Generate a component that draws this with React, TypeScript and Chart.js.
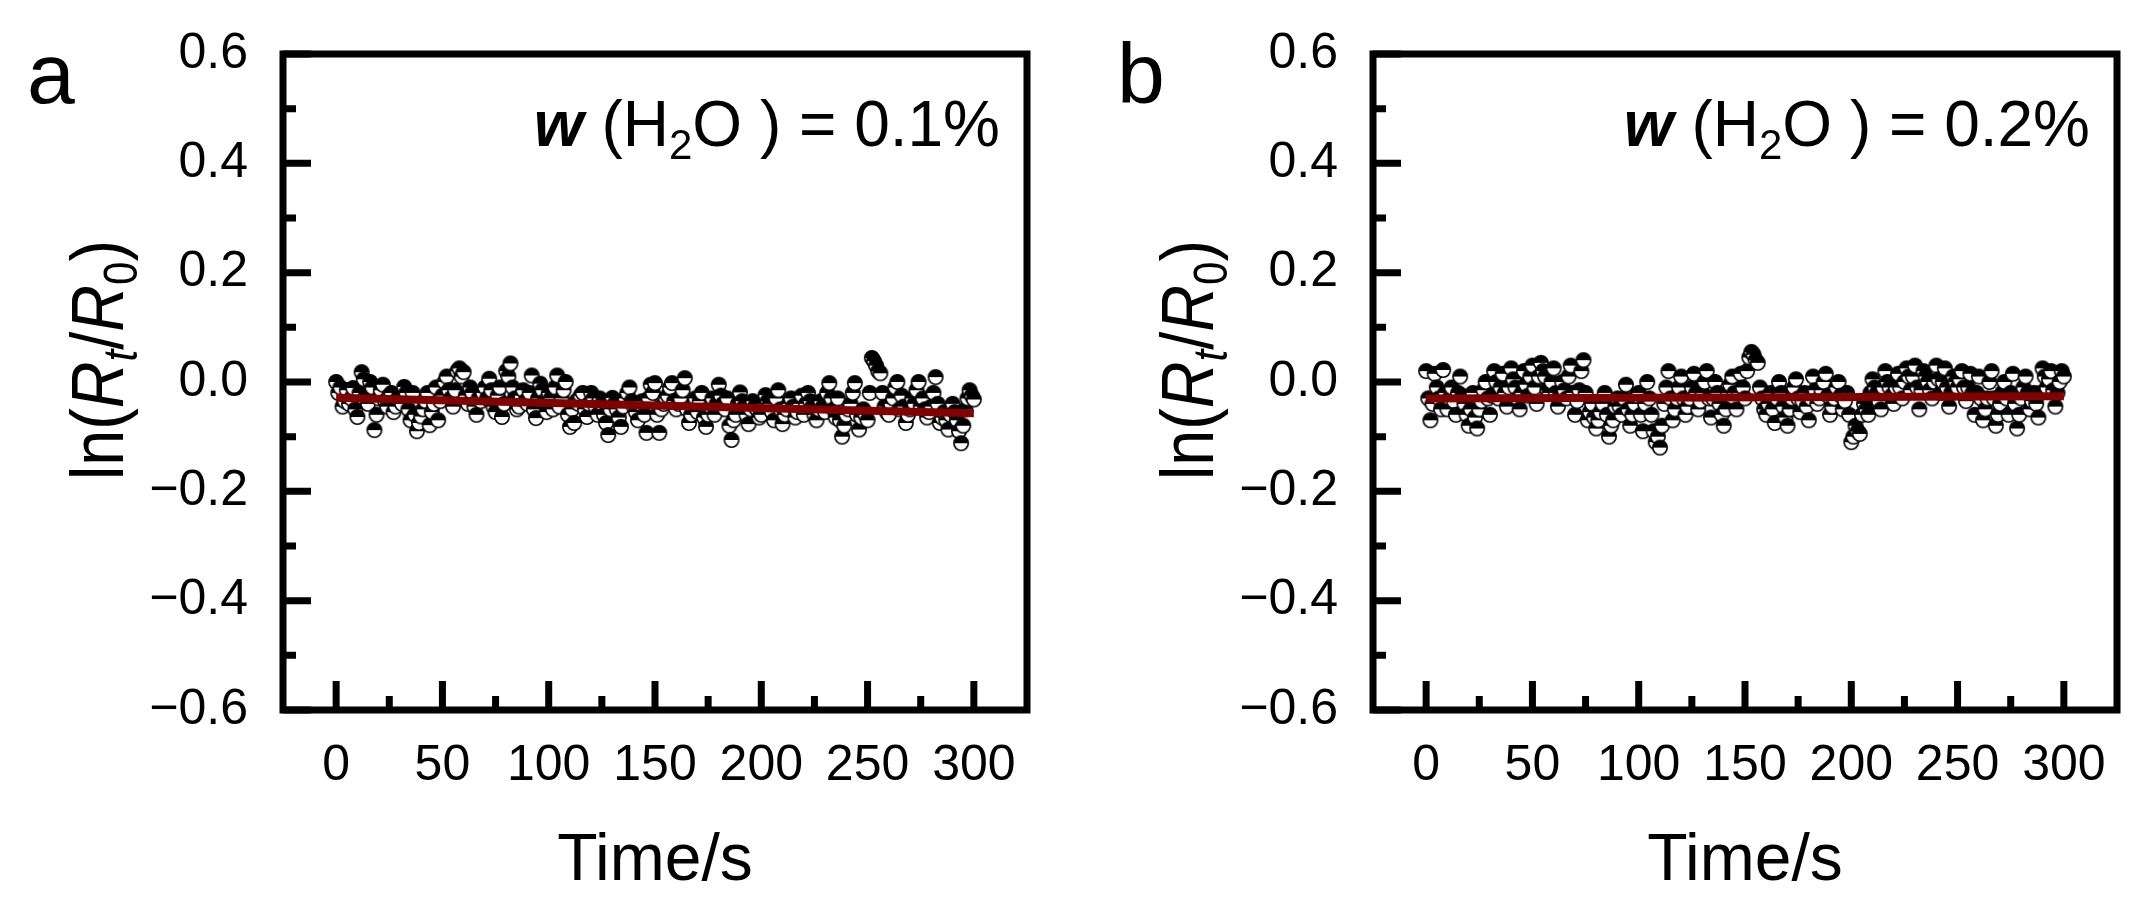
import React, { useEffect, useRef } from 'react'
import { Chart, registerables } from 'chart.js'

Chart.register(...registerables)

// time base, s (one reading per second)
const TIME = [
  0, 1, 2, 3, 4, 5, 6, 7, 8, 9, 10, 11, 12, 13, 14, 15, 16, 17, 18, 19,
  20, 21, 22, 23, 24, 25, 26, 27, 28, 29, 30, 31, 32, 33, 34, 35, 36, 37, 38, 39,
  40, 41, 42, 43, 44, 45, 46, 47, 48, 49, 50, 51, 52, 53, 54, 55, 56, 57, 58, 59,
  60, 61, 62, 63, 64, 65, 66, 67, 68, 69, 70, 71, 72, 73, 74, 75, 76, 77, 78, 79,
  80, 81, 82, 83, 84, 85, 86, 87, 88, 89, 90, 91, 92, 93, 94, 95, 96, 97, 98, 99,
  100, 101, 102, 103, 104, 105, 106, 107, 108, 109, 110, 111, 112, 113, 114, 115, 116, 117, 118, 119,
  120, 121, 122, 123, 124, 125, 126, 127, 128, 129, 130, 131, 132, 133, 134, 135, 136, 137, 138, 139,
  140, 141, 142, 143, 144, 145, 146, 147, 148, 149, 150, 151, 152, 153, 154, 155, 156, 157, 158, 159,
  160, 161, 162, 163, 164, 165, 166, 167, 168, 169, 170, 171, 172, 173, 174, 175, 176, 177, 178, 179,
  180, 181, 182, 183, 184, 185, 186, 187, 188, 189, 190, 191, 192, 193, 194, 195, 196, 197, 198, 199,
  200, 201, 202, 203, 204, 205, 206, 207, 208, 209, 210, 211, 212, 213, 214, 215, 216, 217, 218, 219,
  220, 221, 222, 223, 224, 225, 226, 227, 228, 229, 230, 231, 232, 233, 234, 235, 236, 237, 238, 239,
  240, 241, 242, 243, 244, 245, 246, 247, 248, 249, 250, 251, 252, 253, 254, 255, 256, 257, 258, 259,
  260, 261, 262, 263, 264, 265, 266, 267, 268, 269, 270, 271, 272, 273, 274, 275, 276, 277, 278, 279,
  280, 281, 282, 283, 284, 285, 286, 287, 288, 289, 290, 291, 292, 293, 294, 295, 296, 297, 298, 299,
  300,
]

// ln(Rt/R0), w(H2O) = 0.1%  (10 readings per row)
const LN_RATIO_A = [
  0.0, -0.02, -0.01, -0.045, -0.035, -0.015, -0.04, -0.03, -0.011, -0.05,
  -0.064, -0.02, 0.018, 0.005, -0.025, -0.04, 0.0, -0.01, -0.088, -0.06,
  -0.03, -0.015, -0.005, -0.035, -0.045, -0.025, -0.02, -0.055, -0.045, -0.03,
  -0.03, -0.04, -0.009, -0.02, -0.05, -0.07, -0.02, -0.06, -0.09, -0.075,
  -0.063, -0.05, -0.035, -0.02, -0.079, -0.055, -0.04, -0.01, -0.07, -0.035,
  -0.025, 0.0, 0.01, -0.015, -0.03, -0.045, -0.015, 0.02, 0.025, 0.01,
  0.018, -0.025, -0.04, -0.01, -0.02, -0.045, -0.06, -0.03, -0.035, -0.02,
  -0.01, -0.03, 0.006, -0.015, -0.045, -0.055, -0.025, -0.01, -0.064, -0.04,
  0.02, 0.01, 0.034, -0.01, -0.03, -0.05, -0.045, -0.025, -0.015, -0.035,
  -0.04, -0.02, 0.012, -0.05, -0.066, -0.03, -0.003, -0.015, -0.035, -0.055,
  -0.02, -0.03, -0.05, -0.01, 0.012, -0.045, -0.03, -0.015, 0.0, -0.06,
  -0.082, -0.05, -0.075, -0.035, -0.04, -0.025, -0.02, -0.05, -0.064, -0.04,
  -0.02, -0.03, -0.045, -0.06, -0.03, -0.04, -0.06, -0.075, -0.097, -0.05,
  -0.029, -0.04, -0.05, -0.065, -0.082, -0.045, -0.03, -0.02, -0.01, -0.035,
  -0.045, -0.055, -0.07, -0.04, -0.035, -0.06, -0.093, -0.03, -0.005, -0.02,
  -0.002, -0.06, -0.093, -0.05, -0.04, -0.03, -0.025, -0.01, -0.002, -0.035,
  -0.05, -0.04, -0.03, -0.015, 0.007, -0.05, -0.075, -0.06, -0.04, -0.03,
  -0.055, -0.035, -0.02, -0.065, -0.082, -0.06, -0.045, -0.03, -0.06, -0.04,
  -0.005, -0.025, -0.04, -0.05, -0.03, -0.08, -0.106, -0.07, -0.06, -0.04,
  -0.019, -0.035, -0.045, -0.06, -0.077, -0.05, -0.035, -0.045, -0.05, -0.065,
  -0.06, -0.04, -0.024, -0.035, -0.04, -0.055, -0.07, -0.03, -0.015, -0.05,
  -0.077, -0.06, -0.05, -0.04, -0.03, -0.045, -0.065, -0.055, -0.04, -0.025,
  -0.06, -0.04, -0.02, -0.035, -0.045, -0.06, -0.07, -0.05, -0.035, -0.045,
  -0.055, -0.02, -0.002, -0.03, -0.05, -0.065, -0.03, -0.07, -0.1, -0.08,
  -0.06, -0.05, -0.04, -0.02, -0.002, -0.06, -0.087, -0.065, -0.05, -0.06,
  -0.07, -0.02, 0.044, 0.038, 0.03, 0.02, 0.016, -0.02, -0.045, -0.055,
  -0.06, -0.04, -0.03, -0.01, 0.0, -0.05, -0.025, -0.045, -0.075, -0.06,
  -0.05, -0.03, -0.04, -0.015, 0.0, -0.045, -0.03, -0.05, -0.065, -0.055,
  -0.045, -0.02, 0.009, -0.04, -0.075, -0.065, -0.055, -0.07, -0.087, -0.06,
  -0.04, -0.055, -0.07, -0.09, -0.112, -0.08, -0.05, -0.03, -0.015, -0.025,
  -0.032,
]

// ln(Rt/R0), w(H2O) = 0.2%  (10 readings per row)
const LN_RATIO_B = [
  0.02, -0.03, -0.07, -0.04, 0.015, -0.01, -0.03, -0.05, 0.022, -0.02,
  -0.05, -0.03, -0.01, -0.035, -0.06, -0.02, 0.01, -0.025, -0.04, -0.06,
  -0.08, -0.05, -0.02, -0.065, -0.085, -0.05, -0.035, -0.015, 0.0, -0.03,
  -0.06, -0.025, 0.02, 0.0, -0.03, -0.01, 0.015, -0.02, -0.045, -0.01,
  0.025, 0.005, -0.01, -0.03, -0.05, -0.02, 0.02, -0.005, -0.025, 0.01,
  0.03, -0.01, -0.04, 0.01, 0.035, 0.02, 0.01, -0.015, -0.02, 0.0,
  0.025, -0.02, -0.045, -0.025, 0.0, -0.015, -0.03, 0.01, 0.03, -0.02,
  -0.06, -0.035, -0.015, 0.02, 0.04, -0.02, -0.07, -0.055, -0.04, -0.065,
  -0.085, -0.07, -0.055, -0.04, -0.02, -0.06, -0.1, -0.08, -0.07, -0.045,
  -0.03, -0.045, -0.06, -0.03, -0.005, -0.05, -0.08, -0.06, -0.04, -0.025,
  -0.02, -0.06, -0.09, -0.04, 0.0, -0.03, -0.06, -0.09, -0.11, -0.1,
  -0.12, -0.08, -0.04, -0.01, 0.02, -0.03, -0.07, -0.05, -0.03, -0.01,
  0.01, -0.03, -0.06, -0.045, -0.03, -0.01, 0.015, -0.02, -0.05, -0.035,
  -0.02, 0.0, 0.02, -0.03, -0.065, -0.03, 0.0, -0.02, -0.04, -0.06,
  -0.08, -0.05, -0.02, -0.005, 0.01, -0.02, -0.05, -0.02, 0.015, -0.01,
  -0.03, 0.02, 0.045, 0.055, 0.05, 0.04, 0.035, -0.01, -0.03, -0.05,
  -0.06, -0.04, -0.02, -0.05, -0.075, -0.03, 0.0, -0.02, -0.045, -0.065,
  -0.08, -0.05, -0.03, -0.01, 0.005, -0.03, -0.055, -0.035, -0.02, -0.045,
  -0.07, -0.03, 0.01, -0.015, -0.04, -0.03, -0.015, 0.0, 0.015, -0.025,
  -0.06, -0.045, -0.03, -0.01, 0.0, -0.025, -0.05, -0.035, -0.02, -0.06,
  -0.11, -0.1, -0.08, -0.09, -0.095, -0.06, -0.04, -0.05, -0.06, -0.02,
  0.005, -0.01, -0.02, -0.035, -0.05, -0.01, 0.02, 0.0, -0.01, -0.025,
  -0.04, -0.01, 0.015, -0.01, -0.03, 0.0, 0.025, 0.01, -0.015, 0.01,
  0.03, -0.01, -0.05, -0.015, 0.02, 0.01, 0.0, -0.015, -0.03, 0.0,
  0.03, 0.005, -0.02, 0.0, 0.025, -0.01, -0.045, -0.02, 0.01, 0.0,
  -0.01, 0.005, 0.02, -0.01, -0.035, -0.01, 0.015, -0.02, -0.06, -0.02,
  0.01, -0.03, -0.07, -0.05, -0.03, 0.0, 0.02, -0.03, -0.08, -0.06,
  -0.04, -0.02, 0.0, -0.03, -0.06, -0.02, 0.015, -0.04, -0.085, -0.06,
  -0.03, -0.01, 0.01, -0.02, -0.05, -0.035, -0.02, -0.04, -0.065, -0.02,
  0.025, 0.01, -0.01, 0.005, 0.02, -0.015, -0.045, -0.02, 0.0, 0.02,
  0.01,
]

// linear fits
const FIT_TIME = [0, 300]
const FIT_A = [-0.029, -0.057]
const FIT_B = [-0.03, -0.026]

const X_MAJOR = [0, 50, 100, 150, 200, 250, 300]
const X_MINOR = [25, 75, 125, 175, 225, 275]
const Y_MAJOR = [-0.6, -0.4, -0.2, 0, 0.2, 0.4, 0.6]
const Y_MINOR = [-0.5, -0.3, -0.1, 0.1, 0.3, 0.5]

const FONT = 'Arial, "Liberation Sans", sans-serif'
const W = 1054
const H = 904

type Run = { text: string; font: string; dy?: number }

function runsWidth(ctx: CanvasRenderingContext2D, runs: Run[]) {
  let total = 0
  for (const r of runs) {
    ctx.font = r.font
    total += ctx.measureText(r.text).width
  }
  return total
}

// draw a row of text pieces (italic, subscripts)
function drawRuns(ctx: CanvasRenderingContext2D, runs: Run[], x: number, y: number, align: 'left' | 'center' | 'right') {
  const total = runsWidth(ctx, runs)
  let cx = align === 'left' ? x : align === 'center' ? x - total / 2 : x - total
  ctx.textAlign = 'left'
  ctx.textBaseline = 'alphabetic'
  for (const r of runs) {
    ctx.font = r.font
    ctx.fillText(r.text, cx, y + (r.dy || 0))
    cx += ctx.measureText(r.text).width
  }
}

function halfDot() {
  const c = document.createElement('canvas')
  c.width = 18
  c.height = 18
  const g = c.getContext('2d')!
  g.beginPath()
  g.arc(9, 9, 7.2, 0, Math.PI * 2)
  g.fillStyle = '#fff'
  g.fill()
  g.beginPath()
  g.arc(9, 9, 7.2, Math.PI, 0)
  g.closePath()
  g.fillStyle = '#000'
  g.fill()
  g.beginPath()
  g.arc(9, 9, 7.2, 0, Math.PI * 2)
  g.lineWidth = 1.6
  g.strokeStyle = '#000'
  g.stroke()
  return c
}

const framePlugin = {
  id: 'frame',
  afterDatasetsDraw(chart: any) {
    const { ctx, chartArea: a, scales } = chart
    const x = scales.x
    const y = scales.y
    ctx.save()
    ctx.strokeStyle = '#000'
    ctx.lineWidth = 7
    ctx.lineJoin = 'miter'
    ctx.strokeRect(a.left, a.top, a.right - a.left, a.bottom - a.top)
    ctx.beginPath()
    for (const v of X_MAJOR) {
      const px = x.getPixelForValue(v)
      ctx.moveTo(px, a.bottom)
      ctx.lineTo(px, a.bottom - 29)
    }
    for (const v of X_MINOR) {
      const px = x.getPixelForValue(v)
      ctx.moveTo(px, a.bottom)
      ctx.lineTo(px, a.bottom - 14)
    }
    for (const v of Y_MAJOR) {
      const py = y.getPixelForValue(v)
      ctx.moveTo(a.left, py)
      ctx.lineTo(a.left + 28, py)
    }
    for (const v of Y_MINOR) {
      const py = y.getPixelForValue(v)
      ctx.moveTo(a.left, py)
      ctx.lineTo(a.left + 13, py)
    }
    ctx.stroke()
    ctx.restore()
  },
}

const Y_TITLE: Run[] = [
  { text: 'ln(', font: `75px ${FONT}` },
  { text: 'R', font: `italic 75px ${FONT}` },
  { text: 't', font: `italic 49px ${FONT}`, dy: 14 },
  { text: '/', font: `75px ${FONT}` },
  { text: 'R', font: `italic 75px ${FONT}` },
  { text: '0', font: `49px ${FONT}`, dy: 14 },
  { text: ')', font: `75px ${FONT}` },
]

const textPlugin = {
  id: 'texts',
  afterDraw(chart: any) {
    const { ctx } = chart
    const opts = chart.options.plugins.texts
    ctx.save()
    ctx.fillStyle = '#000'

    ctx.font = `86px ${FONT}`
    ctx.textAlign = 'left'
    ctx.textBaseline = 'alphabetic'
    ctx.fillText(opts.letter, 27, 103)

    // y title: tall glyphs squeezed to a 240px run, as in the original
    ctx.save()
    ctx.translate(123, 360)
    ctx.rotate(-Math.PI / 2)
    ctx.scale(240 / runsWidth(ctx, Y_TITLE), 1)
    drawRuns(ctx, Y_TITLE, 0, 0, 'center')
    ctx.restore()

    drawRuns(ctx, [{ text: 'Time/s', font: `66px ${FONT}` }], 655, 880, 'center')

    drawRuns(ctx, [
      { text: 'w', font: `italic bold 64px ${FONT}` },
      { text: ' (H', font: `64px ${FONT}` },
      { text: '2', font: `42px ${FONT}`, dy: 13 },
      { text: 'O ) = ' + opts.water, font: `64px ${FONT}` },
    ], 1000, 146, 'right')
    ctx.restore()
  },
}

type PanelProps = { left: number; letter: string; water: string; values: number[]; fit: number[] }

function Panel({ left, letter, water, values, fit }: PanelProps) {
  const ref = useRef<HTMLCanvasElement>(null)

  useEffect(() => {
    const dot = halfDot()
    const chart = new Chart(ref.current!, {
      type: 'scatter',
      data: {
        datasets: [
          {
            type: 'line',
            data: FIT_TIME.map((t, i) => ({ x: t, y: fit[i] })),
            borderColor: '#820000',
            borderWidth: 8,
            pointRadius: 0,
            order: 1,
          },
          {
            type: 'scatter',
            data: TIME.map((t, i) => ({ x: t, y: values[i] })),
            pointStyle: dot,
            pointRadius: 9,
            order: 2,
          },
        ],
      } as any,
      options: {
        animation: false,
        responsive: false,
        devicePixelRatio: 1,
        layout: { autoPadding: false, padding: { top: 54, right: W - 1027, bottom: 0, left: 0 } },
        scales: {
          x: {
            type: 'linear',
            min: -25,
            max: 325,
            grid: { display: false, drawTicks: false },
            border: { display: false },
            afterBuildTicks: (s: any) => {
              s.ticks = X_MAJOR.map((v) => ({ value: v }))
            },
            afterFit: (s: any) => {
              s.height = H - 54 - 656
              s.paddingLeft = 0
              s.paddingRight = 0
            },
            ticks: {
              autoSkip: false,
              maxRotation: 0,
              padding: 26,
              color: '#000',
              font: { family: FONT, size: 50 },
            },
          },
          y: {
            type: 'linear',
            min: -0.6,
            max: 0.6,
            grid: { display: false, drawTicks: false },
            border: { display: false },
            afterBuildTicks: (s: any) => {
              s.ticks = Y_MAJOR.map((v) => ({ value: v }))
            },
            afterFit: (s: any) => {
              s.width = 283
              s.paddingTop = 0
              s.paddingBottom = 0
            },
            ticks: {
              padding: 35,
              color: '#000',
              font: { family: FONT, size: 50 },
              callback: (v: any) => {
                const n = Number(v)
                const s = Math.abs(n).toFixed(1)
                return n < -1e-9 ? '\u2212' + s : s
              },
            },
          },
        },
        plugins: {
          legend: { display: false },
          tooltip: { enabled: false },
          texts: { letter, water },
        } as any,
      },
      plugins: [framePlugin, textPlugin],
    })

    return () => {
      chart.destroy()
    }
  }, [])

  return <canvas ref={ref} width={W} height={H} style={{ position: 'absolute', left, top: 0 }} />
}

export default function App() {
  return (
    <div style={{ position: 'absolute', left: 0, top: 0, width: 2144, height: H, background: '#fff', overflow: 'hidden' }}>
      <Panel left={0} letter="a" water="0.1%" values={LN_RATIO_A} fit={FIT_A} />
      <Panel left={1090} letter="b" water="0.2%" values={LN_RATIO_B} fit={FIT_B} />
    </div>
  )
}
